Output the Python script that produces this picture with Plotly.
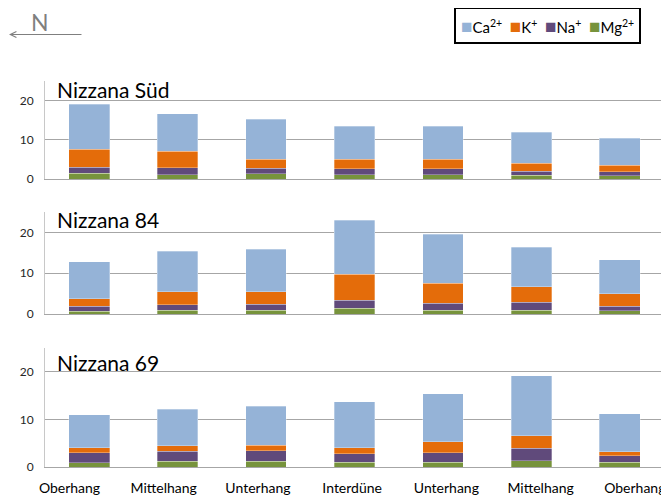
import plotly.graph_objects as go
from plotly.subplots import make_subplots

# slope positions, north -> south
positions = ["Oberhang", "Mittelhang", "Unterhang", "Interdüne", "Unterhang", "Mittelhang", "Oberhang"]
sites = ["Nizzana Süd", "Nizzana 84", "Nizzana 69"]

# cation values per site (stack order: Mg, Na, K, Ca)
mg = [
    [1.5, 1.1, 1.4, 1.1, 1.1, 1.0, 0.8],
    [0.75, 1.0, 0.9, 1.4, 1.0, 0.9, 0.8],
    [0.9, 1.2, 1.2, 1.0, 1.0, 1.3, 1.0],
]
na = [
    [1.5, 1.8, 1.3, 1.5, 1.5, 1.0, 1.0],
    [1.2, 1.3, 1.5, 2.0, 1.7, 1.95, 1.15],
    [2.1, 2.1, 2.2, 1.8, 2.0, 2.6, 1.4],
]
k = [
    [4.6, 4.2, 2.4, 2.5, 2.5, 2.05, 1.7],
    [1.85, 3.2, 3.1, 6.3, 4.9, 3.85, 3.05],
    [1.1, 1.2, 1.2, 1.3, 2.3, 2.7, 0.8],
]
ca = [
    [11.5, 9.5, 10.1, 8.4, 8.3, 7.85, 6.9],
    [9.05, 9.9, 10.35, 13.3, 11.9, 9.7, 8.3],
    [6.9, 7.6, 8.2, 9.65, 10.1, 12.6, 7.95],
]

series = [
    ("Mg<sup>2+</sup>", mg, "#77933C"),
    ("Na<sup>+</sup>", na, "#604A7B"),
    ("K<sup>+</sup>", k, "#E46C0A"),
    ("Ca<sup>2+</sup>", ca, "#95B3D7"),
]

fig = make_subplots(rows=3, cols=1)
xs = list(range(len(positions)))

for row in range(3):
    for name, vals, color in series:
        fig.add_trace(go.Bar(
            x=xs, y=vals[row], name=name, width=0.46,
            marker=dict(color=color, line=dict(color="rgba(255,255,255,0.5)", width=0.6)),
            showlegend=False,
        ), row=row + 1, col=1)

# domains matched to the reference panel heights
domains = [[0.746, 1.0], [0.396, 0.661], [0.0, 0.308]]
for i in range(3):
    fig.update_yaxes(domain=domains[i], range=[0, 25], tickvals=[0, 10, 20],
                     showgrid=True, gridcolor="#A6A6A6", gridwidth=1,
                     showline=True, linecolor="#C8C8C8", linewidth=1,
                     zeroline=False, ticks="", ticklabelstandoff=8,
                     automargin=False,
                     tickfont=dict(size=12, color="#262626"), row=i + 1, col=1)
    fig.update_xaxes(range=[-0.5, 6.5], showticklabels=False,
                     showline=True, linecolor="#A6A6A6",
                     showgrid=False, zeroline=False, ticks="",
                     automargin=False, row=i + 1, col=1)

# slope labels sit on their own evenly spaced axis under the bottom panel
fig.add_trace(go.Scatter(x=xs, y=[0] * len(xs), xaxis="x4", yaxis="y3",
                         mode="markers", marker=dict(opacity=0),
                         hoverinfo="skip", showlegend=False))
fig.update_layout(xaxis4=dict(
    overlaying="x3", anchor="y3", side="bottom",
    range=[-0.26, 6.31], tickvals=xs, ticktext=positions,
    showgrid=False, showline=False, zeroline=False, ticks="",
    ticklabelstandoff=11, automargin=False,
    tickfont=dict(size=14, color="#000000"),
))

title_y = [0.978, 0.641, 0.271]
for name, ty in zip(sites, title_y):
    fig.add_annotation(text=name, x=0.016, y=ty, xref="paper", yref="paper",
                       xanchor="left", yanchor="middle", showarrow=False,
                       font=dict(size=21, color="#000000"))

# north arrow
fig.add_annotation(x=-0.0598, y=1.1205, xref="paper", yref="paper", text="",
                   showarrow=True, ax=75, ay=0, arrowhead=5, arrowsize=1,
                   arrowwidth=1.2, arrowcolor="#7F7F7F")
fig.add_annotation(text="N", x=-0.008, y=1.1516, xref="paper", yref="paper",
                   xanchor="center", yanchor="middle", showarrow=False,
                   font=dict(size=23, color="#7F7F7F"))

# legend box
legend_text = "  ".join(
    "<span style='color:%s;font-size:19px'>■</span>%s" % (color, name)
    for name, _, color in reversed(series)
)
fig.add_annotation(text=legend_text, x=0.963, y=1.1917, xref="paper", yref="paper",
                   xanchor="right", yanchor="top", showarrow=False,
                   bordercolor="#000000", borderwidth=2, borderpad=5,
                   bgcolor="white", font=dict(size=15, color="#000000"))

fig.update_layout(
    template="none",
    width=661, height=493,
    barmode="stack",
    showlegend=False,
    paper_bgcolor="white", plot_bgcolor="white",
    font=dict(family="Lato, Carlito, sans-serif", color="#000000"),
    margin=dict(l=37, r=5, t=73, b=34),
)

fig.write_html("out.html")
